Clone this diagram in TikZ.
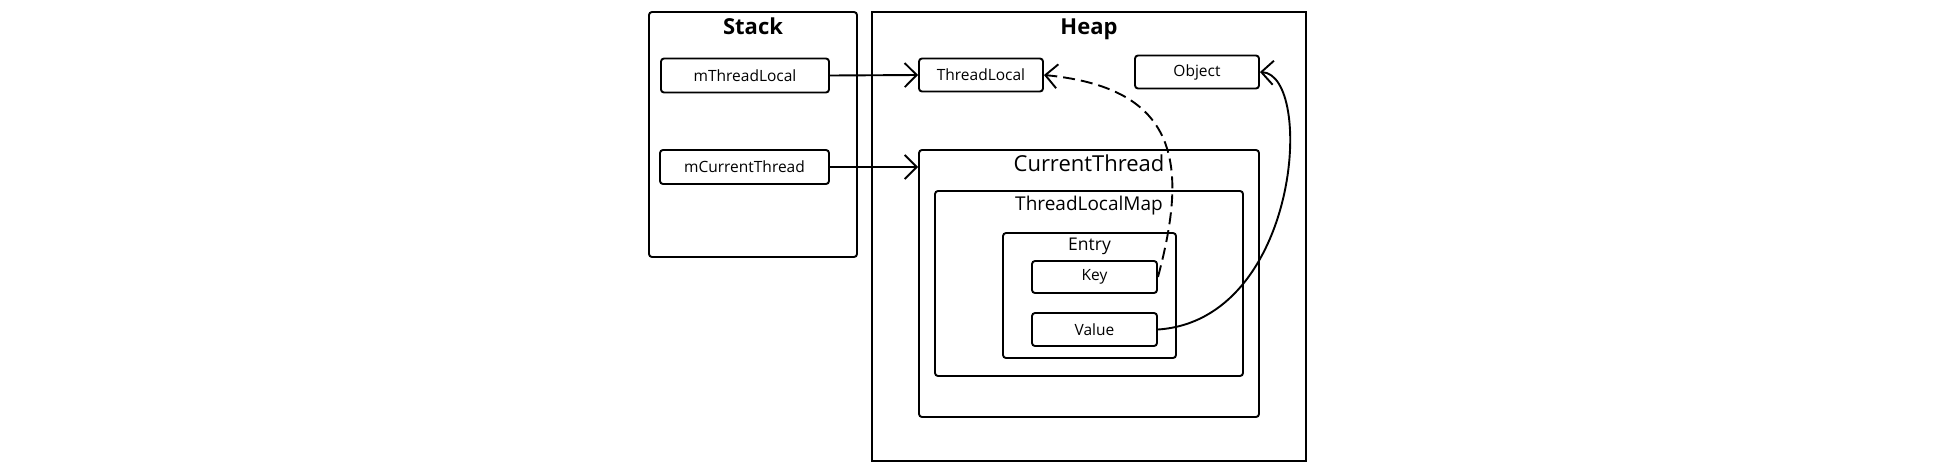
\documentclass[tikz,border=0pt]{standalone}
\usepackage{fontspec}
\setmainfont{Open Sans}
\usetikzlibrary{arrows.meta}
\begin{document}
\begin{tikzpicture}[x=1pt,y=-1pt,
  box/.style={draw, line width=1.9pt, rounded corners=3pt, inner sep=0pt},
  sbox/.style={box, font=\fontsize{15.5}{18}\selectfont},
  bigtitle/.style={anchor=base, inner sep=0pt, font=\bfseries\fontsize{22}{26}\selectfont},
  subtitle/.style={anchor=base, inner sep=0pt},
  arr/.style={line width=1.9pt, -{Straight Barb[length=12pt,width=24pt,line width=1.9pt]}}]
\fill[white] (0,0) rectangle (1934,474);
\useasboundingbox (0,0) rectangle (1934,474);

% containers
\node[box, minimum width=208pt, minimum height=245pt] (stack) at (753,134.5) {};
\node[box, rounded corners=0pt, minimum width=434pt, minimum height=449pt] (heap) at (1089,236.5) {};
\node[bigtitle] (stackT) at (753,34.7) {Stack};
\node[bigtitle] (heapT) at (1089,34.7) {Heap};

% stack items
\node[sbox, minimum width=168pt, minimum height=34pt] (mTL) at (745,75.5) {mThreadLocal};
\node[sbox, minimum width=169pt, minimum height=34pt] (mCT) at (744.5,167) {mCurrentThread};

% heap items
\node[sbox, minimum width=124pt, minimum height=33pt] (TL) at (981,75) {ThreadLocal};
\node[sbox, minimum width=124pt, minimum height=33pt] (Obj) at (1197,72) {Object};

\node[box, minimum width=340pt, minimum height=267pt] (CT) at (1089,283.5) {};
\node[subtitle, font=\fontsize{22}{26}\selectfont] (CTt) at (1089,171.7) {CurrentThread};
\node[box, minimum width=308pt, minimum height=185pt] (TLM) at (1089,283.5) {};
\node[subtitle, font=\fontsize{19}{22}\selectfont] (TLMt) at (1089,210) {ThreadLocalMap};
\node[box, minimum width=173pt, minimum height=125pt] (Entry) at (1089.5,295.5) {};
\node[subtitle, font=\fontsize{17.5}{20}\selectfont] (Entryt) at (1089.5,250) {Entry};
\node[sbox, minimum width=125pt, minimum height=32pt] (Key) at (1094.5,277) {Key};
\node[sbox, minimum width=125pt, minimum height=33pt] (Value) at (1094.5,329.5) {Value};

% connectors
\draw[arr] (mTL.east) -- (TL.west);
\draw[arr] (mCT.east) -- (mCT.east -| CT.west);
\draw[arr, dash pattern=on 12pt off 6pt] (Key.east) .. controls (1188,165) and (1180,88) .. (TL.east);
\draw[arr] (Value.east) .. controls (1300,320) and (1315,75) .. (Obj.east);
\end{tikzpicture}
\end{document}
